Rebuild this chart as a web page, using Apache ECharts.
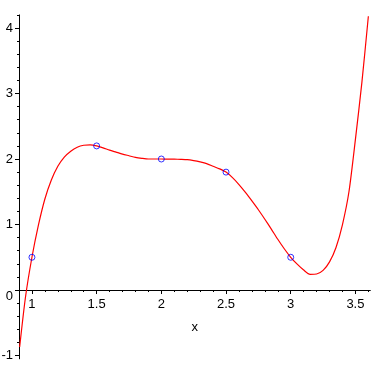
<!DOCTYPE html>
<html>
<head>
<meta charset="utf-8">
<script src="https://cdn.jsdelivr.net/npm/echarts@6/dist/echarts.min.js"></script>
<style>html,body{margin:0;padding:0;background:#fff;}#c{width:371px;height:371px;}</style>
</head>
<body>
<div id="c"></div>
<script>
// Curve
const curveX = [0.905, 0.95, 1.0, 1.05, 1.1, 1.15, 1.2, 1.25, 1.3, 1.35, 1.4, 1.45, 1.5, 1.55, 1.6, 1.65, 1.7, 1.75, 1.8, 1.85, 1.9, 1.95, 2.0, 2.05, 2.1, 2.15, 2.2, 2.25, 2.3, 2.35, 2.4, 2.45, 2.5, 2.55, 2.6, 2.65, 2.7, 2.75, 2.8, 2.85, 2.9, 2.95, 3.0, 3.05, 3.1, 3.15, 3.2, 3.25, 3.3, 3.35, 3.4, 3.45, 3.5, 3.55, 3.6];
const curveY = [-0.87, -0.11, 0.5, 0.99, 1.39, 1.68, 1.89, 2.03, 2.12, 2.18, 2.21, 2.215, 2.2, 2.17, 2.135, 2.105, 2.075, 2.05, 2.025, 2.01, 2.0, 2.0, 2.0, 1.999, 1.998, 1.995, 1.99, 1.975, 1.955, 1.93, 1.89, 1.85, 1.8, 1.715, 1.61, 1.49, 1.36, 1.225, 1.08, 0.93, 0.775, 0.63, 0.5, 0.395, 0.305, 0.24, 0.245, 0.3, 0.43, 0.65, 1.0, 1.5, 2.3, 3.17, 4.18];
// Marked points
const pointX = [1, 1.5, 2, 2.5, 3];
const pointY = [0.5, 2.2, 2, 1.8, 0.5];
// Ticks
const xTickLabels = [1, 1.5, 2, 2.5, 3, 3.5];
const xMinorTicks = [1.0,1.1,1.2,1.3,1.4,1.5,1.6,1.7,1.8,1.9,2.0,2.1,2.2,2.3,2.4,2.5,2.6,2.7,2.8,2.9,3.0,3.1,3.2,3.3,3.4,3.5,3.6];
const yTickLabels = [-1, 0, 1, 2, 3, 4];
const yMinorTicks = [-1,-0.8,-0.6,-0.4,-0.2,0,0.2,0.4,0.6,0.8,1,1.2,1.4,1.6,1.8,2,2.2,2.4,2.6,2.8,3,3.2,3.4,3.6,3.8,4,4.2];

const chart = echarts.init(document.getElementById('c'), null, {renderer: 'canvas'});
const FONT = 'Liberation Sans, Arial, sans-serif';
const X_MIN = 0.9, X_MAX = 3.615, Y_MIN = -1.05, Y_MAX = 4.2;
const LEFT = 19, RIGHT = 0.7, TOP = 14.9, BOTTOM = 12.2;
// pixel row of y = 0 inside the plot grid, derived from the axis range
const plotH = 371 - TOP - BOTTOM;
const zeroFromBottom = BOTTOM + plotH * (0 - Y_MIN) / (Y_MAX - Y_MIN);

const option = {
  animation: false,
  backgroundColor: '#ffffff',
  grid: [
    {left: LEFT, right: RIGHT, top: TOP, bottom: BOTTOM, containLabel: false, outerBoundsMode: 'none'},
    {left: LEFT, right: RIGHT, top: TOP, bottom: zeroFromBottom, containLabel: false, outerBoundsMode: 'none'}
  ],
  xAxis: [
    { // data axis of the plot grid (hidden)
      gridIndex: 0, type: 'value', min: X_MIN, max: X_MAX, show: false
    },
    { // visible x axis with labels along y = 0
      gridIndex: 1, type: 'value', min: X_MIN, max: X_MAX, position: 'bottom',
      axisLine: {show: true, onZero: false, lineStyle: {color: '#000', width: 1}},
      axisTick: {show: true, inside: false, length: 4, customValues: xTickLabels, lineStyle: {color: '#000'}},
      axisLabel: {show: true, customValues: xTickLabels, margin: 8, color: '#000', fontSize: 13, fontFamily: FONT},
      splitLine: {show: false},
      name: 'x', nameLocation: 'middle', nameGap: 31,
      nameTextStyle: {color: '#000', fontSize: 13, fontFamily: FONT}
    },
    { // minor ticks
      gridIndex: 1, type: 'value', min: X_MIN, max: X_MAX, position: 'bottom',
      axisLine: {show: false, onZero: false},
      axisTick: {show: true, inside: false, length: 2, customValues: xMinorTicks, lineStyle: {color: '#000'}},
      axisLabel: {show: false},
      splitLine: {show: false}
    }
  ],
  yAxis: [
    {
      gridIndex: 0, type: 'value', min: Y_MIN, max: Y_MAX, position: 'left',
      axisLine: {show: true, onZero: false, lineStyle: {color: '#000', width: 1}},
      axisTick: {show: true, inside: false, length: 4, customValues: yTickLabels, lineStyle: {color: '#000'}},
      axisLabel: {
        show: true, customValues: yTickLabels, margin: 6, color: '#000', fontSize: 13, fontFamily: FONT,
        formatter: function (v) { return v === 0 ? '{z|0}' : String(v); },
        rich: {z: {color: '#000', fontSize: 13, fontFamily: FONT, padding: [12, 0, 0, 0]}}
      },
      splitLine: {show: false}
    },
    {
      gridIndex: 0, type: 'value', min: Y_MIN, max: Y_MAX, position: 'left',
      axisLine: {show: false, onZero: false},
      axisTick: {show: true, inside: false, length: 2, customValues: yMinorTicks, lineStyle: {color: '#000'}},
      axisLabel: {show: false},
      splitLine: {show: false}
    },
    { // helper axis for the x-axis grid (hidden)
      gridIndex: 1, type: 'value', min: 0, max: 1, show: false
    }
  ],
  series: [
    {
      type: 'line', xAxisIndex: 0, yAxisIndex: 0,
      data: curveX.map((x, i) => [x, curveY[i]]),
      showSymbol: false, smooth: 0.25,
      lineStyle: {color: '#ff0000', width: 1.2},
      z: 2
    },
    {
      type: 'scatter', xAxisIndex: 0, yAxisIndex: 0,
      data: pointX.map((x, i) => [x, pointY[i]]),
      symbol: 'circle', symbolSize: 6,
      itemStyle: {color: 'rgba(0,0,0,0)', borderColor: '#0000ff', borderWidth: 1},
      z: 3
    }
  ]
};
chart.setOption(option);
</script>
</body>
</html>
